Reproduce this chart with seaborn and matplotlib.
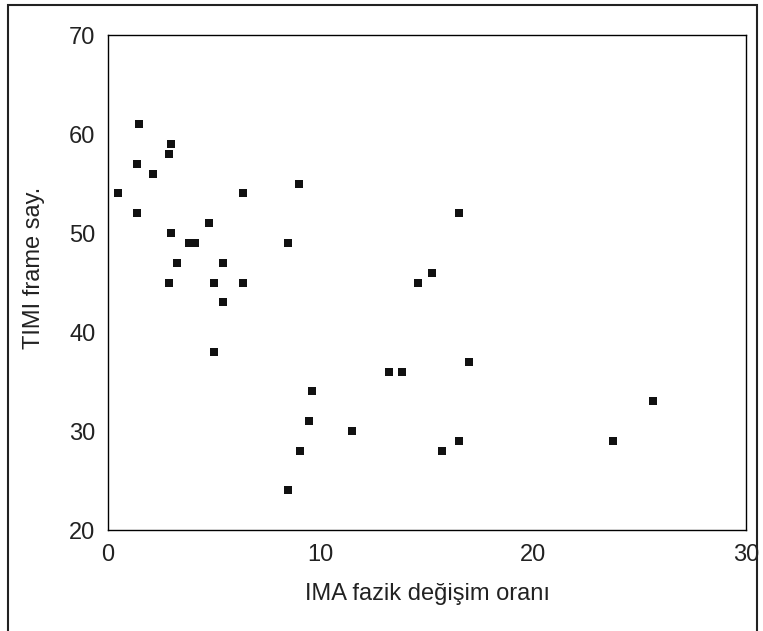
import pandas as pd
import matplotlib.pyplot as plt
import seaborn as sns
from matplotlib.patches import Rectangle

# Datos
ima_fazik = [1.46, 2.95, 2.87, 1.38, 2.1, 9.0, 0.46, 6.33, 1.38, 16.49,
             4.75, 2.95, 3.79, 4.07, 8.45, 3.26, 5.39, 15.25, 2.87, 4.98,
             6.33, 14.55, 5.39, 4.98, 16.96, 13.2, 13.8, 9.58, 25.64, 9.43,
             11.46, 16.49, 23.76, 9.03, 15.7, 8.48]
timi_frame = [61, 59, 58, 57, 56, 55, 54, 54, 52, 52,
              51, 50, 49, 49, 49, 47, 47, 46, 45, 45,
              45, 45, 43, 38, 37, 36, 36, 34, 33, 31,
              30, 29, 29, 28, 28, 24]
x_ticks = [0, 10, 20, 30]
y_ticks = [20, 30, 40, 50, 60, 70]

df = pd.DataFrame({'ima': ima_fazik, 'timi': timi_frame})

sns.set_style('white')
plt.rcParams['font.family'] = ['Liberation Sans', 'DejaVu Sans']

fig = plt.figure(figsize=(7.63, 6.31), dpi=100)
ax = fig.add_axes([0.1415, 0.160, 0.8365, 0.7845])

sns.scatterplot(data=df, x='ima', y='timi', marker='s', s=27,
                color='#111111', edgecolor='#111111', linewidth=0, ax=ax)

ax.set_xlim(0, 30)
ax.set_ylim(20, 70)
ax.set_xticks(x_ticks)
ax.set_yticks(y_ticks)
ax.tick_params(axis='both', direction='out', length=3, width=1, colors='black',
               labelcolor='#222222', labelsize=17)
ax.tick_params(axis='y', pad=6)
ax.tick_params(axis='x', pad=7)
for sp in ax.spines.values():
    sp.set_color('black')
    sp.set_linewidth(1)

ax.set_xlabel('IMA fazik değişim oranı', fontsize=17, labelpad=12, color='#222222')
ax.set_ylabel('TIMI frame say.', fontsize=17, color='#222222')
ax.yaxis.set_label_coords(-0.099, 0.529)

# Marco exterior de la figura
fig.patches.append(Rectangle((8 / 763, -0.02), 749 / 763, 1.0 - 5 / 631 + 0.02,
                             transform=fig.transFigure, fill=False,
                             edgecolor='#222222', linewidth=1.5))

fig.savefig('out.png', dpi=100)
